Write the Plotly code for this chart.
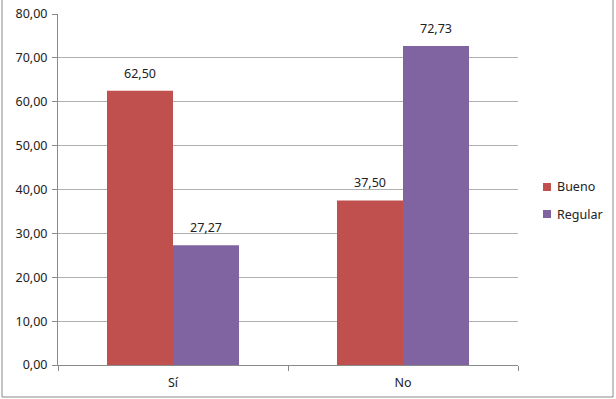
import plotly.graph_objects as go

categories = ["Sí", "No"]
series_names = ["Bueno", "Regular"]
bueno = [62.50, 37.50]
regular = [27.27, 72.73]
colors = ["#C0504D", "#8064A2"]
y_ticks = [0, 10, 20, 30, 40, 50, 60, 70, 80]
y_tick_labels = ["0,00", "10,00", "20,00", "30,00", "40,00", "50,00", "60,00", "70,00", "80,00"]

def fmt(v):
    return f"{v:.2f}".replace(".", ",")

L, R, T, B = 58, 98, 14, 34
W, H = 616, 399
PW, PH = W - L - R, H - T - B

fig = go.Figure()
series = [bueno, regular]
for name, vals, col in zip(series_names, series, colors):
    fig.add_trace(go.Bar(name=name, x=categories, y=vals, marker_color=col,
                         marker_line_width=0, showlegend=False))

# data labels
bargap = 0.426
group_w = 1 - bargap
n = len(series)
annotations = []
for si, vals in enumerate(series):
    for ci, v in enumerate(vals):
        xoff = -group_w / 2 + group_w / n * (si + 0.5)
        annotations.append(dict(x=ci + xoff, y=v, xref="x", yref="y", text=fmt(v),
                                showarrow=False, yanchor="bottom", yshift=7,
                                font=dict(size=12.5, color="#222")))

# custom legend
shapes = [dict(type="rect", xref="paper", yref="paper",
               x0=-(L - 2) / PW, x1=(613 - L) / PW, y0=-(397 - (H - B)) / PH, y1=(H - B + 2) / PH,
               line=dict(color="#8a8a8a", width=1), layer="below")]
leg_y = [187, 214]
for name, col, yy in zip(series_names, colors, leg_y):
    yp = ((H - B) - yy) / PH
    shapes.append(dict(type="rect", xref="paper", yref="paper",
                       x0=(543 - L) / PW, x1=(551 - L) / PW,
                       y0=yp - 4 / PH, y1=yp + 4 / PH,
                       fillcolor=col, line=dict(width=0)))
    annotations.append(dict(x=(555 - L) / PW, y=yp, xref="paper", yref="paper",
                            text=name, showarrow=False, xanchor="left", yanchor="middle",
                            font=dict(size=12.5, color="#222")))

fig.update_layout(
    width=W, height=H,
    margin=dict(l=L, r=R, t=T, b=B, autoexpand=False),
    barmode="group", bargap=bargap, bargroupgap=0,
    plot_bgcolor="white", paper_bgcolor="white",
    font=dict(family="Noto Sans, Open Sans, sans-serif", size=12.5, color="#222"),
    showlegend=False,
    shapes=shapes,
    annotations=annotations,
)
fig.update_yaxes(range=[0, 80], tickvals=y_ticks, ticktext=y_tick_labels,
                 showgrid=True, gridcolor="#B0B0B0", gridwidth=1,
                 showline=True, linecolor="#8a8a8a", ticks="outside", ticklen=5,
                 tickcolor="#8a8a8a", zeroline=False, ticklabelstandoff=2)
fig.update_xaxes(showline=True, linecolor="#8a8a8a", ticks="outside", ticklen=5,
                 tickcolor="#8a8a8a", tickson="boundaries", showgrid=False,
                 range=[-0.5, 1.5], ticklabelstandoff=6)

fig.write_html("out.html")
